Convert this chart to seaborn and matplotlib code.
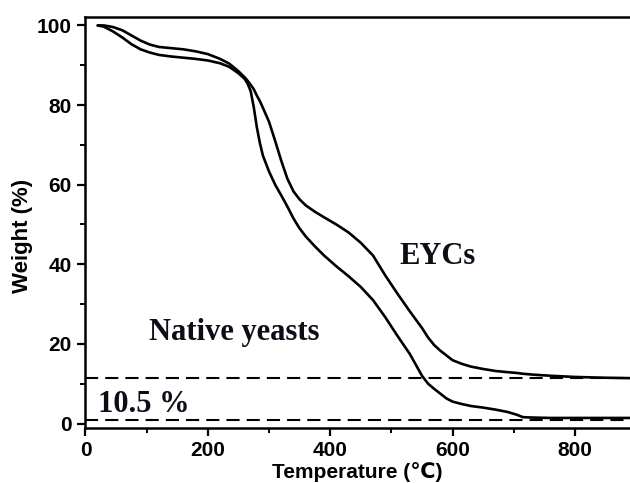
import numpy as np
import pandas as pd
import seaborn as sns
import matplotlib
matplotlib.use("Agg")
import matplotlib.pyplot as plt
from matplotlib.ticker import MultipleLocator

# TGA curves: temperature (deg C) vs remaining weight (%)
temperature = [20, 30, 45, 60, 75, 90, 105, 120, 140, 160, 180, 200, 220, 235,
               250, 260, 265, 270, 275, 280, 285, 290, 300, 310, 320, 330, 340,
               350, 360, 375, 390, 410, 430, 450, 470, 490, 510, 530, 550, 560,
               570, 580, 590, 600, 615, 630, 650, 670, 690, 705, 715, 730, 760,
               800, 850, 890]
native_yeasts = [100, 99.7, 98.5, 97.0, 95.3, 94.0, 93.2, 92.6, 92.2, 91.9, 91.6,
                 91.2, 90.5, 89.6, 88.0, 86.6, 85.4, 83.5, 79.5, 74.5, 70.5, 67.3,
                 63.3, 60.0, 57.3, 54.5, 51.5, 49.0, 47.0, 44.5, 42.2, 39.5, 37.0,
                 34.3, 31.0, 26.7, 22.0, 17.5, 12.0, 10.0, 8.7, 7.5, 6.3, 5.5, 4.9,
                 4.4, 4.0, 3.5, 2.9, 2.2, 1.6, 1.5, 1.4, 1.4, 1.4, 1.4]
eycs = [100, 100, 99.6, 98.8, 97.5, 96.2, 95.2, 94.6, 94.3, 94.0, 93.5, 92.8,
        91.6, 90.4, 88.5, 87.0, 86.1, 85.1, 84.0, 82.4, 81.0, 79.3, 75.8, 71.0,
        66.0, 61.5, 58.3, 56.3, 54.8, 53.2, 51.8, 50.0, 48.0, 45.4, 42.2, 37.2,
        32.6, 28.2, 24.0, 21.6, 19.7, 18.3, 17.1, 15.9, 15.0, 14.3, 13.7, 13.2,
        12.9, 12.7, 12.5, 12.3, 12.0, 11.7, 11.5, 11.4]
series_names = ["Native yeasts", "EYCs"]

# residual levels marked by dashed guide lines (difference 10.5 %)
residue_levels = [11.5, 1.0]
residue_gap_label = "10.5 %"

x_ticks = [0, 200, 400, 600, 800]
y_ticks = [0, 20, 40, 60, 80, 100]

df = pd.DataFrame({
    "Temperature": temperature * 2,
    "Weight": native_yeasts + eycs,
    "Sample": [series_names[0]] * len(temperature) + [series_names[1]] * len(temperature),
})

sns.set_style("ticks")
plt.rcParams["font.family"] = ["Liberation Sans", "DejaVu Sans"]
plt.rcParams["text.color"] = "black"
plt.rcParams["axes.labelcolor"] = "black"

fig = plt.figure(figsize=(6.3, 4.83), dpi=100)
ax = fig.add_axes([0.1357, 0.1149, 0.8643, 0.8489])

sns.lineplot(data=df, x="Temperature", y="Weight", hue="Sample",
             palette=["black", "black"], estimator=None, sort=False,
             linewidth=1.9, legend=False, ax=ax)

for lvl in residue_levels:
    ax.axhline(lvl, color="black", linewidth=1.5, linestyle=(0, (6.3, 3.4)), zorder=1)

ax.set_xlim(0, 890)
ax.set_ylim(-1.0, 102.0)
ax.set_xticks(x_ticks)
ax.set_yticks(y_ticks)
ax.xaxis.set_minor_locator(MultipleLocator(100))
ax.yaxis.set_minor_locator(MultipleLocator(10))

for side in ["left", "bottom", "top"]:
    ax.spines[side].set_linewidth(1.8)
    ax.spines[side].set_color("black")
ax.spines["right"].set_visible(False)

ax.tick_params(which="major", direction="out", length=6, width=1.6, pad=4,
               labelsize=15, colors="black")
ax.tick_params(which="minor", direction="out", length=3.5, width=1.4, colors="black")
for lab in ax.get_xticklabels() + ax.get_yticklabels():
    lab.set_fontweight("bold")

ax.set_xlabel("Temperature (℃)", fontsize=15, fontweight="bold", color="black",
              family=["Liberation Sans", "DejaVu Sans"])
ax.set_ylabel("Weight (%)", fontsize=16, fontweight="bold", color="black")
ax.xaxis.set_label_coords(0.5, -0.083)
ax.yaxis.set_label_coords(-0.096, 0.467)

serif = ["Liberation Serif", "DejaVu Serif"]
ink = "#0d0d18"
ax.text(513, 40, "EYCs", fontsize=22, fontweight="bold", family=serif,
        ha="left", va="baseline", color=ink)
ax.text(103, 21, "Native yeasts", fontsize=22, fontweight="bold", family=serif,
        ha="left", va="baseline", color=ink)
ax.text(21, 2.8, residue_gap_label, fontsize=22, fontweight="bold", family=serif,
        ha="left", va="baseline", color=ink)

fig.savefig("out.png", dpi=100)
